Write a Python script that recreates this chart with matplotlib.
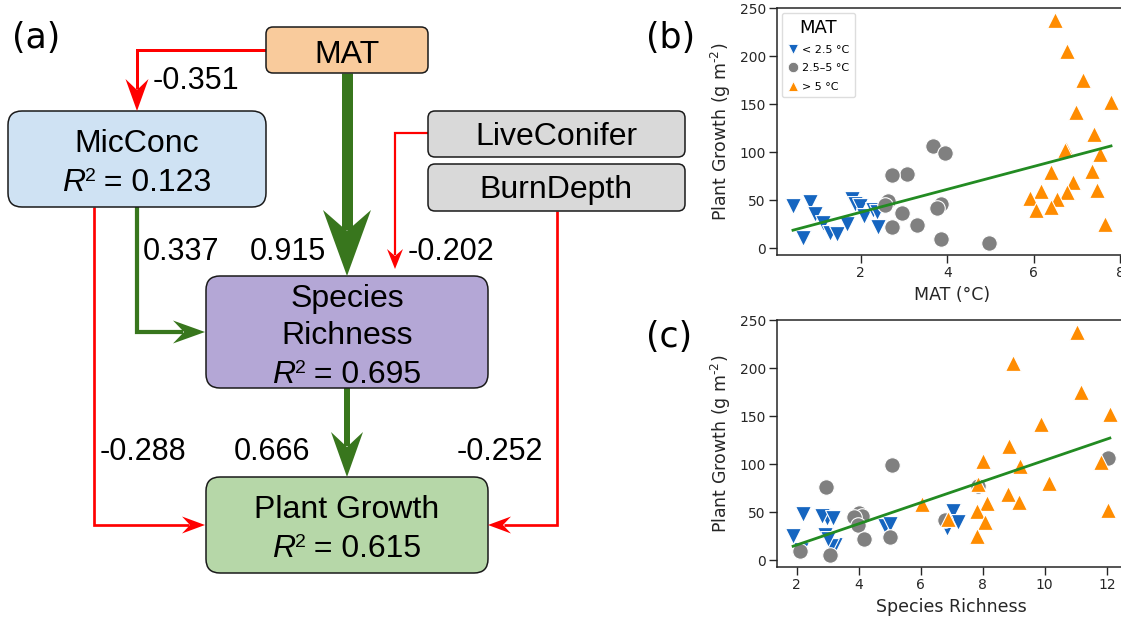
import numpy as np
import matplotlib
matplotlib.use("Agg")
import matplotlib.pyplot as plt
from matplotlib.patches import FancyBboxPatch, Polygon
from matplotlib.lines import Line2D

# ---- data: MAT (°C), species richness, plant growth (g m-2) per MAT group
mat_low = [0.43, 0.82, 0.94, 1.13, 1.28, 1.44, 0.66, 1.67, 1.80, 1.86, 1.98, 2.08, 2.28, 2.37, 2.40]
rich_low = [2.97, 2.21, 4.85, 2.91, 3.24, 3.10, 2.15, 1.89, 7.05, 2.81, 3.18, 6.84, 7.21, 5.01, 3.02]
growth_low = [44, 48, 36, 26, 16, 15, 10, 25, 51, 46, 44, 33, 40, 38, 22]

mat_mid = [3.66, 3.94, 3.06, 2.71, 2.64, 3.85, 2.56, 3.76, 2.95, 3.31, 2.71, 3.85, 4.96]
rich_mid = [12.03, 5.09, 7.85, 2.94, 4.02, 4.12, 3.86, 6.78, 3.99, 5.01, 4.19, 2.12, 3.09]
growth_mid = [106, 99, 77.5, 76, 49, 46, 45, 42, 37, 24.5, 22, 9, 5]

mat_high = [6.49, 6.78, 7.15, 7.79, 6.99, 7.40, 6.74, 6.72, 7.53, 7.36, 6.41, 6.90, 7.46, 6.16,
            6.78, 5.91, 6.53, 6.40, 6.06, 7.65]
rich_high = [11.05, 8.97, 11.17, 12.1, 9.89, 8.85, 8.01, 11.82, 9.21, 10.15, 7.85, 8.81, 9.16, 8.13,
             6.06, 12.03, 7.81, 6.89, 8.08, 7.81]
growth_high = [238, 206, 175, 152, 141.5, 119, 103.5, 102.5, 98, 80.5, 79.5, 69, 60.5, 60,
               58, 52.5, 51, 43, 39.5, 25]

group_labels = ['< 2.5 °C', '2.5–5 °C', '> 5 °C']
group_colors = ['#1565c0', '#808080', '#ff8c00']
group_markers = ['v', 'o', '^']

# path coefficients of the diagram
coef_mat_mic = '-0.351'
coef_mic_rich = '0.337'
coef_mat_rich = '0.915'
coef_con_rich = '-0.202'
coef_mic_pg = '-0.288'
coef_rich_pg = '0.666'
coef_burn_pg = '-0.252'
r2_mic = '0.123'
r2_rich = '0.695'
r2_pg = '0.615'

W, H = 1121, 617
fig = plt.figure(figsize=(W / 100, H / 100), dpi=100)
rend = fig.canvas.get_renderer()

# ---------------- (a) path diagram, drawn in pixel units
ax = fig.add_axes([0, 0, 1, 1])
ax.set_xlim(0, W)
ax.set_ylim(H, 0)
ax.axis('off')

RED = '#ff0000'
GREEN = '#38761d'
dfont = 'Liberation Sans'


def box(x0, y0, x1, y1, col, r):
    p = FancyBboxPatch((x0, y0), x1 - x0, y1 - y0,
                       boxstyle='round,pad=0,rounding_size=%g' % r,
                       fc=col, ec='#1a1a1a', lw=1.1, zorder=2)
    ax.add_patch(p)


def head(tip, d, L, w, n, col):
    tx, ty = tip
    dx, dy = d
    px, py = -dy, dx
    pts = [(tx, ty),
           (tx - dx * L + px * w, ty - dy * L + py * w),
           (tx - dx * (L - n), ty - dy * (L - n)),
           (tx - dx * L - px * w, ty - dy * L - py * w)]
    ax.add_patch(Polygon(pts, closed=True, fc=col, ec='none', zorder=3))
    return (tx - dx * (L - n) - dx * 1, ty - dy * (L - n) - dy * 1)


def arrow(pts, d, L, w, n, col, lw):
    end = head(pts[-1], d, L, w, n, col)
    xs = [p[0] for p in pts[:-1]] + [end[0]]
    ys = [p[1] for p in pts[:-1]] + [end[1]]
    ax.plot(xs, ys, color=col, lw=lw * 0.72, solid_capstyle='butt',
            solid_joinstyle='miter', zorder=1)


def r2_line(xc, yb, val):
    # italic R, small raised 2, then "= value"; centred on xc
    parts = [('R', dict(style='italic', fontsize=23), 0, 0),
             ('2', dict(fontsize=14), 10, -1),
             (' = ' + val, dict(fontsize=23), 0, 0)]
    ts = []
    for s, kw, up, dx in parts:
        t = ax.text(0, yb - up, s, ha='left', va='baseline', family=dfont, zorder=4, **kw)
        ts.append((t, t.get_window_extent(rend).width, dx))
    total = sum(w + dx for _, w, dx in ts)
    x = xc - total / 2
    for t, w, dx in ts:
        x += dx
        t.set_x(x)
        x += w


# arrows
arrow([(266, 50), (137, 50), (137, 111)], (0, 1), 32, 11.5, 11, RED, 3.0)
arrow([(347, 73), (347, 276)], (0, 1), 66, 24, 21, GREEN, 11)
arrow([(428, 133), (395, 133), (395, 269)], (0, 1), 20, 8, 7, RED, 2.2)
arrow([(137, 207), (137, 332), (205, 332)], (1, 0), 32, 11.5, 11, GREEN, 4.2)
arrow([(347, 388), (347, 477)], (0, 1), 45, 16, 15, GREEN, 6)
arrow([(94, 207), (94, 525), (205, 525)], (1, 0), 23, 8.5, 8, RED, 2.7)
arrow([(557, 211), (557, 525), (488, 525)], (-1, 0), 23, 8.5, 8, RED, 2.7)

# boxes
box(266, 27, 428, 73, '#f9cb9c', 7)
box(8, 111, 266, 207, '#cfe2f3', 14)
box(428, 111, 685, 157, '#d9d9d9', 7)
box(428, 164, 685, 211, '#d9d9d9', 7)
box(206, 276, 488, 388, '#b4a7d6', 14)
box(206, 477, 488, 573, '#b6d7a8', 14)

bt = dict(ha='center', va='baseline', fontsize=23, family=dfont, zorder=4)
ax.text(347, 63, 'MAT', **bt)
ax.text(137, 152, 'MicConc', **bt)
r2_line(137, 191, r2_mic)
ax.text(556, 145, 'LiveConifer', **bt)
ax.text(556, 198, 'BurnDepth', **bt)
ax.text(347, 307, 'Species', **bt)
ax.text(347, 344, 'Richness', **bt)
r2_line(347, 383, r2_rich)
ax.text(347, 518, 'Plant Growth', **bt)
r2_line(347, 557, r2_pg)

nt = dict(ha='left', va='baseline', fontsize=22, family=dfont, zorder=4)
ax.text(153, 89, coef_mat_mic, **nt)
ax.text(143, 260, coef_mic_rich, **nt)
ax.text(250, 260, coef_mat_rich, **nt)
ax.text(408, 260, coef_con_rich, **nt)
ax.text(100, 460, coef_mic_pg, **nt)
ax.text(234, 460, coef_rich_pg, **nt)
ax.text(457, 460, coef_burn_pg, **nt)

# panel labels
for lab, x, y in [('(a)', 12, 48), ('(b)', 646, 48), ('(c)', 646, 347)]:
    fig.text(x / W, 1 - y / H, lab, fontsize=25, va='baseline', ha='left')

# ---------------- (b) and (c) scatter plots
groups_b = [(mat_low, growth_low), (mat_mid, growth_mid), (mat_high, growth_high)]
groups_c = [(rich_low, growth_low), (rich_mid, growth_mid), (rich_high, growth_high)]


def scatter_panel(rect, groups, xlim, xticks, xlabel, legend):
    a = fig.add_axes(rect)
    for (xs, ys), c, m in zip(groups, group_colors, group_markers):
        s = 125 if m == 'o' else 130
        a.scatter(xs, ys, s=s, c=c, marker=m, edgecolors='white', linewidths=0.8, zorder=2)
    allx = np.concatenate([np.array(g[0], float) for g in groups])
    ally = np.concatenate([np.array(g[1], float) for g in groups])
    k, b0 = np.polyfit(allx, ally, 1)
    xx = np.array([allx.min(), allx.max()])
    a.plot(xx, k * xx + b0, color='#228b22', lw=2, zorder=3)
    a.set_xlim(*xlim)
    a.set_ylim(-7.3, 250.5)
    a.set_xticks(xticks)
    a.set_yticks([0, 50, 100, 150, 200, 250])
    a.tick_params(labelsize=10, length=5.5, width=1, pad=2.5, colors='#262626')
    for sp in a.spines.values():
        sp.set_color('#262626')
        sp.set_linewidth(1.1)
    a.set_xlabel(xlabel, fontsize=12.5, color='#262626', labelpad=4)
    a.set_ylabel('Plant Growth (g m$^{\u2010 2}$)', fontsize=12.5, color='#262626', labelpad=5,
                 math_fontfamily='dejavusans')
    if legend:
        hs = [Line2D([], [], ls='none', marker=m, color=c, markeredgecolor='white',
                     markeredgewidth=0.6, markersize=7.5) for c, m in zip(group_colors, group_markers)]
        lg = a.legend(hs, group_labels, title='MAT', loc='upper left', fontsize=8,
                      title_fontsize=13, labelspacing=0.75, handlelength=1.0,
                      handletextpad=0.3, borderpad=0.5, borderaxespad=0.45,
                      framealpha=1, edgecolor='#dddddd', fancybox=True)
        lg.get_frame().set_linewidth(1)
    return a


fx = lambda px: px / W
fy = lambda top, bot: (1 - bot / H, (bot - top) / H)

b_bottom, b_h = fy(8, 255)
ax_b = scatter_panel([fx(777), b_bottom, fx(1127) - fx(777), b_h], groups_b,
                     (0.06, 8.16), [2, 4, 6, 8], 'MAT (°C)', True)
c_bottom, c_h = fy(320, 567)
ax_c = scatter_panel([fx(777), c_bottom, fx(1126) - fx(777), c_h], groups_c,
                     (1.37, 12.62), [2, 4, 6, 8, 10, 12], 'Species Richness', False)

fig.savefig('out.png', dpi=100)
